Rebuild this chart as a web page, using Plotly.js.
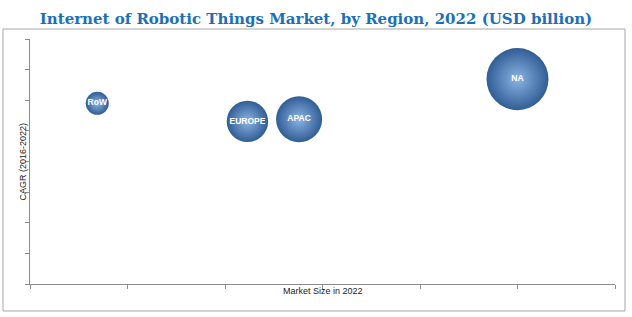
<!DOCTYPE html>
<html>
<head>
<meta charset="utf-8">
<script src="https://cdn.plot.ly/plotly-3.0.1.min.js"></script>
<style>
  html, body { margin: 0; padding: 0; background: #fff; }
  #chart { width: 632px; height: 317px; }
</style>
</head>
<body>
<div id="chart"></div>
<script>
// Data (axis carries no numeric labels)
const regions    = ["RoW", "EUROPE", "APAC", "NA"];
const marketSize = [0.69, 2.23, 2.76, 5.0];   // x: market size in 2022 (USD billion, relative)
const cagr       = [5.9, 5.31, 5.38, 6.69];   // y: CAGR (2016-2022), relative units
const bubbleSize = [0.69, 2.23, 2.76, 5.0];   // bubble area ~ market size
const xTitle = "Market Size in 2022";
const yTitle = "CAGR (2016-2022)";

const trace = {
  type: "scatter",
  mode: "markers+text",
  x: marketSize,
  y: cagr,
  text: regions,
  textposition: "middle center",
  textfont: { family: "Liberation Sans Narrow, Liberation Sans, Arial, sans-serif", size: 8.5, color: "#ffffff", weight: "bold" },
  marker: {
    size: bubbleSize,
    sizemode: "area",
    sizeref: 0.0026,
    color: "#315d96",
    gradient: { type: "radial", color: "#8ab4e3" },
    line: { width: 0 },
    opacity: 1
  },
  hoverinfo: "skip",
  cliponaxis: false
};

const axisCommon = {
  showgrid: false,
  zeroline: false,
  showline: true,
  linecolor: "#8c8c8c",
  linewidth: 1,
  ticks: "outside",
  ticklen: 4,
  tickcolor: "#8c8c8c",
  tickwidth: 1,
  showticklabels: false,
  fixedrange: true
};

const titleFont = { family: "Liberation Sans Narrow, Liberation Sans, sans-serif", size: 9, color: "#222" };

const layout = {
  width: 632,
  height: 317,
  margin: { l: 30, r: 17, t: 39, b: 33, pad: 0 },
  paper_bgcolor: "#ffffff",
  plot_bgcolor: "#ffffff",
  showlegend: false,
  title: {
    text: "<b>Internet of Robotic Things Market, by Region, 2022 (USD billion)</b>",
    font: { family: "DejaVu Serif, serif", size: 15, color: "#1b70b9" },
    x: 0.5, xanchor: "center",
    y: 1 - 19 / 317, yanchor: "middle", yref: "container"
  },
  xaxis: Object.assign({}, axisCommon, { range: [0, 6], dtick: 1, tick0: 0 }),
  yaxis: Object.assign({}, axisCommon, { range: [0, 8], dtick: 1, tick0: 0 }),
  annotations: [
    { text: xTitle, xref: "paper", yref: "paper", x: 0.5, y: (284 - 291) / 245,
      xanchor: "center", yanchor: "middle", showarrow: false, font: titleFont },
    { text: yTitle, xref: "paper", yref: "paper", x: (22 - 30) / 585, y: 0.5, textangle: -90,
      xanchor: "center", yanchor: "middle", showarrow: false, font: titleFont }
  ],
  shapes: [{
    type: "rect", xref: "paper", yref: "paper",
    x0: (3 - 30) / 585, x1: (625 - 30) / 585,
    y0: (284 - 311) / 245, y1: (284 - 29) / 245,
    line: { color: "#a6a6a6", width: 1 },
    fillcolor: "rgba(0,0,0,0)",
    layer: "below"
  }]
};

Plotly.newPlot("chart", [trace], layout, { displayModeBar: false, staticPlot: true });
</script>
</body>
</html>
